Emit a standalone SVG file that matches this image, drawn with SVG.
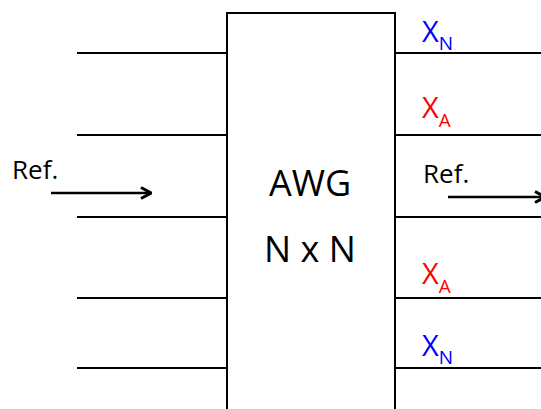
<svg xmlns="http://www.w3.org/2000/svg" width="541" height="409" viewBox="0 0 541 409">
<style>
.ln{stroke:#000;stroke-width:2;fill:none}
.ar{stroke:#000;stroke-width:2.6;fill:none}
.t{font-family:"Open Sans","Liberation Sans",sans-serif;fill:#000}
.ref{font-size:26px}
.big{font-size:36px}
.x{font-size:29px}
.sub{font-size:19px}
.b{fill:#0000FF}
.r{fill:#FF0000}
</style>
<defs>
<marker id="arr" viewBox="0 0 12 14" refX="11" refY="7" markerWidth="12" markerHeight="14" markerUnits="userSpaceOnUse" orient="auto">
<path d="M1,1.5 L11,7 L1,12.5" fill="none" stroke="#000" stroke-width="3"/>
</marker>
</defs>
<rect width="541" height="409" fill="#fff"/>
<g id="awg">
<rect x="227" y="13" width="168" height="410" class="ln"/>
<text class="t big" x="310" y="196" text-anchor="middle">AWG</text>
<text class="t big" x="310" y="262" text-anchor="middle">N x N</text>
</g>
<g id="connectors">
<line class="ln" x1="77" y1="53" x2="227" y2="53"/>
<line class="ln" x1="77" y1="135" x2="227" y2="135"/>
<line class="ln" x1="77" y1="217" x2="227" y2="217"/>
<line class="ln" x1="77" y1="298" x2="227" y2="298"/>
<line class="ln" x1="77" y1="368" x2="227" y2="368"/>
<line class="ln" x1="395" y1="53" x2="541" y2="53"/>
<line class="ln" x1="395" y1="135" x2="541" y2="135"/>
<line class="ln" x1="395" y1="217" x2="541" y2="217"/>
<line class="ln" x1="395" y1="298" x2="541" y2="298"/>
<line class="ln" x1="395" y1="368" x2="541" y2="368"/>
<line class="ar" x1="51" y1="193" x2="151" y2="193" marker-end="url(#arr)"/>
<line class="ar" x1="448" y1="197" x2="545" y2="197" marker-end="url(#arr)"/>
</g>
<g id="labels">
<text class="t ref" x="12" y="179">Ref.</text>
<text class="t ref" x="423" y="183">Ref.</text>
<text class="t x b" x="422" y="42">X<tspan class="sub" dy="8">N</tspan></text>
<text class="t x r" x="422" y="118">X<tspan class="sub" dy="9">A</tspan></text>
<text class="t x r" x="422" y="284">X<tspan class="sub" dy="9">A</tspan></text>
<text class="t x b" x="422" y="356">X<tspan class="sub" dy="8">N</tspan></text>
</g>
</svg>
